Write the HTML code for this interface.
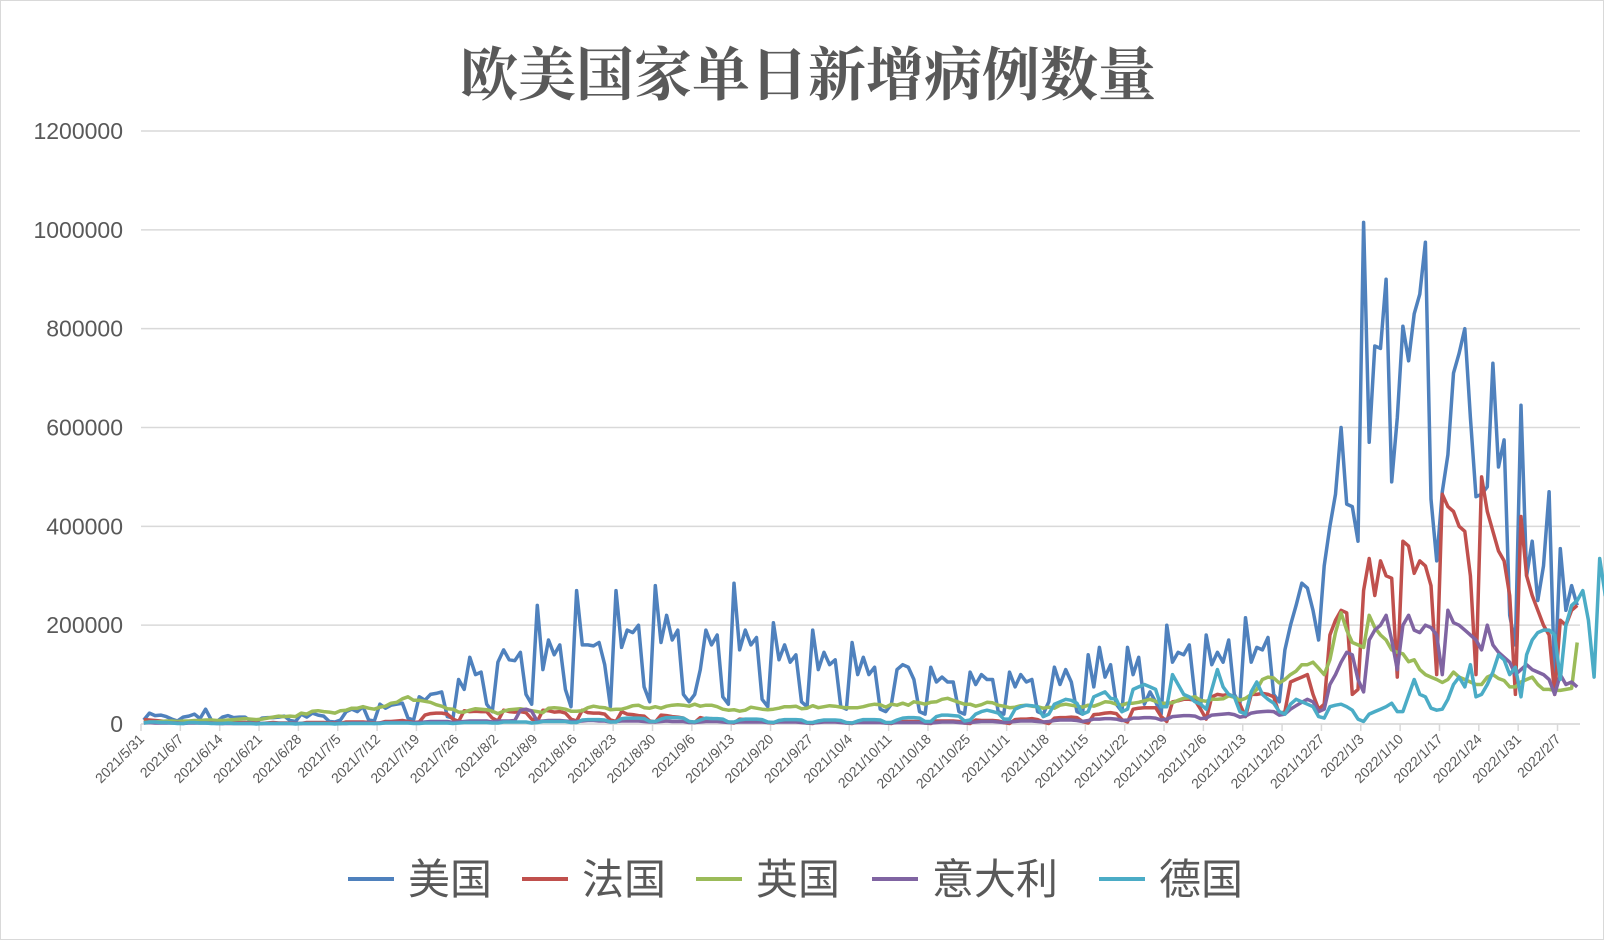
<!DOCTYPE html>
<html><head><meta charset="utf-8"><style>
body{margin:0;background:#fff;}
svg{display:block;font-family:"Liberation Sans","Noto Sans CJK SC",sans-serif;}
</style></head><body>
<svg id="chart" width="1604" height="940" viewBox="0 0 1604 940" xmlns="http://www.w3.org/2000/svg">
<rect x="0.5" y="0.5" width="1603" height="939" fill="#fff" stroke="#d9d9d9"/>
<text x="808" y="95" text-anchor="middle" font-family="'Noto Serif CJK SC',serif" font-weight="bold" font-size="58" fill="#595959">欧美国家单日新增病例数量</text>
<g id="grid"></g>
<g id="yaxis"></g>
<g id="xaxis"></g>
<g id="series"></g>
<g id="legend"></g>
</svg>
<script>
// values in thousands, daily from 2021/5/31
const usValues=[8,22,17,18,15,10,6, 14,16,20,11,30,8,5, 14,17,13,14,14,6,5, 12,13,13,14,16,7,5, 20,14,22,18,16,5,4, 8,25,30,25,35,8,6, 40,32,38,40,42,12,8, 55,48,60,62,65,15,12, 90,70,135,100,105,40,25, 125,150,130,128,145,60,40, 240,110,170,140,160,70,35, 270,160,160,158,165,120,35, 270,155,190,185,200,75,45, 280,165,220,170,190,60,45, 60,110,190,160,180,55,40, 285,150,190,160,175,50,35, 205,130,160,125,140,45,35, 190,110,145,120,130,35,30, 165,100,135,100,115,30,25, 40,110,120,115,90,25,20, 115,85,95,85,85,25,20, 105,80,100,90,90,25,20, 105,75,100,85,90,25,20, 45,115,80,110,85,25,20, 140,75,155,95,120,40,25, 155,100,135,40,65,45,20, 200,125,145,140,160,55,35, 180,120,145,125,170,60,40, 215,125,155,150,175,60,45, 150,200,240,285,275,230,170, 320,400,465,600,445,440,370, 1015,570,765,760,900,490,620, 805,735,830,870,975,455,330, 470,545,710,750,800,620,460, 465,480,730,520,575,220,160, 645,300,370,250,320,470,80, 355,230,280,240];
const frValues=[9,8,7,6,5,4,3, 3,4,4,4,3,3,2, 1,3,4,3,3,2,2, 1,2,3,2,2,2,1, 1,3,3,3,3,2,2, 1,4,4,4,4,3,2, 2,5,5,6,7,5,3, 4,18,21,22,22,20,10, 5,27,25,26,25,25,12, 6,28,25,24,25,23,10, 5,28,27,24,25,22,10, 6,28,23,22,22,20,8, 5,25,20,19,17,16,6, 4,18,17,15,14,12,5, 3,13,10,11,10,9,4, 2,10,9,8,8,7,3, 2,7,6,6,6,5,2, 1,6,5,5,5,4,2, 1,5,5,5,5,4,2, 1,5,5,5,5,5,2, 1,6,6,6,6,5,2, 1,8,7,7,7,6,3, 1,9,10,10,11,9,4, 1,12,13,13,14,13,5, 2,19,20,22,23,21,9, 4,30,32,33,33,33,15, 5,45,47,50,50,48,30, 10,55,60,58,60,55,40, 15,60,60,62,60,55,20, 25,85,90,95,100,60,30, 40,180,210,230,225,60,70, 270,335,260,330,300,295,95, 370,360,305,330,320,280,100, 465,440,430,400,390,300,100, 500,430,390,350,330,260,60, 420,300,260,230,200,180,60, 210,200,230,240];
const ukValues=[3,4,4,5,6,6,5, 6,6,7,7,8,8,7, 7,8,9,10,11,10,9, 10,12,14,16,15,16,15, 22,20,26,27,25,24,22, 27,28,32,32,35,32,30, 34,36,42,44,51,55,48, 48,46,44,39,36,31,30, 24,24,28,31,30,29,26, 21,26,29,30,31,29,27, 25,23,32,33,32,30,26, 26,27,33,36,34,33,29, 30,30,33,37,38,33,32, 35,32,36,38,39,38,36, 40,36,38,38,35,30,28, 29,26,28,34,32,30,29, 30,32,35,35,36,31,32, 37,33,35,37,36,34,33, 33,33,35,38,40,39,34, 40,38,42,38,45,43,40, 44,45,50,52,48,44,40, 40,36,39,44,43,38,36, 33,34,37,38,36,35,32, 34,32,38,40,38,36,34, 38,36,40,45,44,40,38, 42,42,44,47,50,46,42, 42,43,48,52,53,55,48, 46,50,50,51,57,54,48, 52,60,70,90,95,93,83, 90,100,107,120,120,125,113, 100,130,185,225,190,165,160, 155,220,195,180,170,150,145, 142,126,130,110,100,95,90, 84,90,105,95,90,85,80, 80,95,100,92,88,75,75, 85,90,95,80,70,70,68, 68,70,72,165];
const itValues=[2,3,2,2,2,2,2, 1,2,2,2,2,2,1, 1,1,1,1,1,1,1, 1,1,1,1,1,1,1, 1,1,1,1,1,1,1, 1,1,2,2,2,2,1, 2,3,3,3,3,3,2, 3,4,5,5,5,5,3, 4,5,6,6,6,6,4, 6,6,6,7,28,30,26, 5,6,7,7,7,6,5, 5,6,7,7,6,6,4, 5,6,6,6,6,5,4, 4,5,6,5,5,5,3, 3,4,5,5,5,4,3, 3,4,4,4,4,4,3, 3,4,4,4,4,3,2, 2,3,4,4,4,3,2, 2,3,3,3,3,3,2, 2,3,3,3,3,3,2, 2,3,4,4,4,3,2, 3,4,5,5,5,4,3, 4,5,6,6,6,5,4, 5,7,8,8,8,7,5, 7,10,10,11,11,10,7, 8,12,12,13,13,12,8, 10,15,16,17,17,16,11, 12,18,19,20,21,19,14, 16,22,24,25,26,25,18, 20,30,37,44,50,45,25, 30,80,100,125,145,140,90, 65,170,190,200,220,170,110, 200,220,190,185,200,195,180, 100,230,205,200,190,180,170, 150,200,160,145,135,125,100, 110,120,110,105,100,90,60, 100,80,85,75];
const deValues=[2,4,4,3,3,2,1, 1,3,3,2,2,1,1, 1,2,1,1,1,1,0, 1,1,1,1,1,1,0, 1,1,1,1,1,1,0, 1,1,1,1,1,1,1, 1,2,2,2,2,2,1, 1,2,2,2,2,2,1, 2,3,3,3,3,3,2, 2,4,4,4,4,4,2, 3,5,5,5,5,5,3, 3,8,9,9,9,8,4, 4,11,12,12,12,11,5, 5,10,13,13,13,12,5, 4,8,12,11,11,10,4, 4,8,10,10,10,9,4, 3,7,9,9,9,8,3, 3,6,8,8,8,7,3, 2,6,9,9,9,8,3, 3,8,12,13,13,12,5, 5,15,18,18,17,16,6, 8,20,25,28,25,22,10, 10,30,35,38,37,35,15, 20,40,45,50,48,42,20, 25,55,60,65,52,50,25, 30,70,75,80,75,70,35, 35,100,80,60,55,45,40, 30,70,110,75,60,55,25, 20,65,85,60,50,42,25, 20,40,50,45,40,35,15, 12,35,38,40,35,28,10, 5,20,25,30,35,42,25, 25,58,90,60,55,32,28, 30,50,80,95,75,120,55, 60,80,105,140,130,100,115, 55,140,170,185,190,190,180, 90,200,240,250,270,210,95, 335,260,245,240];
const seriesNames=["美国","法国","英国","意大利","德国"];
const seriesKeys=["us","france","uk","italy","germany"];
const seriesColors=["#4f81bd","#c0504d","#9bbb59","#8064a2","#4bacc6"];
const yTicks=[0,200000,400000,600000,800000,1000000,1200000];
const yTickLabels=["0","200000","400000","600000","800000","1000000","1200000"];
const startDate=[2021,5,31];

const allSeries=[usValues,frValues,ukValues,itValues,deValues];
const NS="http://www.w3.org/2000/svg";
const L=141,R=1580,T=131,B=724,YMAX=1200000;
const N=usValues.length;
const step=(R-L)/N;
const xPos=i=>L+(i+0.5)*step;
const yPos=v=>B-(v/YMAX)*(B-T);
function mk(tag,attrs,parent){const e=document.createElementNS(NS,tag);for(const k in attrs)e.setAttribute(k,attrs[k]);parent.appendChild(e);return e;}
const grid=document.getElementById('grid'),yax=document.getElementById('yaxis'),xax=document.getElementById('xaxis'),ser=document.getElementById('series'),leg=document.getElementById('legend');
yTicks.forEach((v,i)=>{
  const y=yPos(v);
  const ln=mk('line',{x1:L,x2:R,y1:y,y2:y,stroke:'#d9d9d9','stroke-width':1.5},grid);
  
  
  const t=mk('text',{x:123,y:y+8,'text-anchor':'end','font-size':23,fill:'#595959'},yax);
  t.textContent=yTickLabels[i];
  
  
});
// x ticks weekly
const d0=new Date(startDate[0],startDate[1]-1,startDate[2]);
for(let i=0;i<N;i+=7){
  const x=L+i*step;
  const tk=mk('line',{x1:x,x2:x,y1:B,y2:B+7,stroke:'#d9d9d9','stroke-width':1.5},xax);
  
  
  const d=new Date(d0.getTime()+i*86400000);
  const t=mk('text',{x:x+4,y:B+16,'text-anchor':'end','font-size':14,fill:'#595959',transform:`rotate(-45 ${x+4} ${B+16})`},xax);
  t.textContent=d.getFullYear()+'/'+(d.getMonth()+1)+'/'+d.getDate();
  
  
}
mk('line',{x1:L,x2:R,y1:B,y2:B,stroke:'#d9d9d9','stroke-width':1.5},xax);
allSeries.forEach((arr,s)=>{
  const pts=arr.map((v,i)=>xPos(i).toFixed(1)+','+yPos(v*1000).toFixed(1)).join(' ');
  const p=mk('polyline',{points:pts,fill:'none',stroke:seriesColors[s],'stroke-width':3.5,'stroke-linejoin':'round'},ser);
  
  
});
const legX=[348,522,696,872,1099];
seriesNames.forEach((n,s)=>{
  const g=mk('g',{},leg);
  
  
  mk('line',{x1:legX[s],x2:legX[s]+46,y1:879,y2:879,stroke:seriesColors[s],'stroke-width':4},g);
  const t=mk('text',{x:legX[s]+60,y:894,'font-size':42,fill:'#595959','font-family':"'Noto Sans CJK SC',sans-serif"},g);
  t.textContent=n;
});
</script>
</body></html>
